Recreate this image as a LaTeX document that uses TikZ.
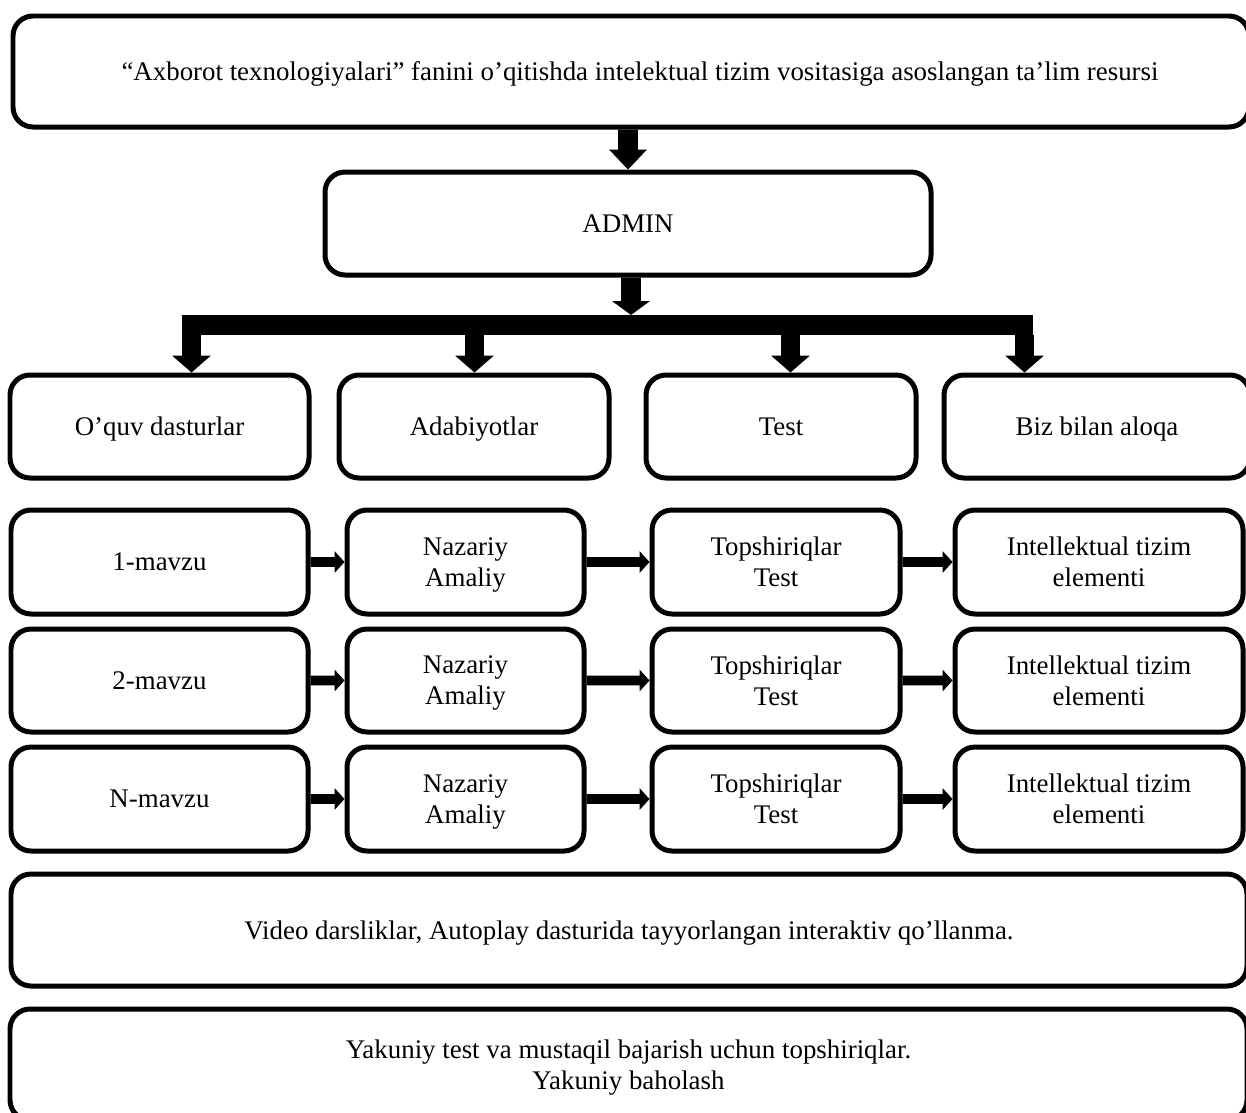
\documentclass[tikz,border=0pt]{standalone}
\usepackage{fontspec}
\setmainfont{Liberation Serif}
\usetikzlibrary{calc}

% one unit = 0.02cm; y grows downwards
\tikzset{
  box/.style={draw, line width=0.1cm, rounded corners=0.4cm, inner sep=0pt,
    align=center, text depth=0pt, font=\fontsize{15.3}{17.6}\selectfont},
}

% \boxat{name}{x1}{y1}{x2}{y2}{text}
\newcommand\boxat[6]{%
  \node[box, minimum width={(#4-#2)*0.02cm}, minimum height={(#5-#3)*0.02cm}]
    (#1) at ({(#2+#4)/2},{(#3+#5)/2}) {#6};}

% block arrow pointing down: from, tip, shaft half width, head half width, head length
\newcommand\downarr[5]{%
  \fill let \p1=(#1), \p2=(#2) in
    ({\x1-#3*0.5669pt},\y1) -- ({\x1+#3*0.5669pt},\y1)
    -- ({\x1+#3*0.5669pt},{\y2+#5*0.5669pt}) -- ({\x1+#4*0.5669pt},{\y2+#5*0.5669pt})
    -- (\x1,\y2)
    -- ({\x1-#4*0.5669pt},{\y2+#5*0.5669pt}) -- ({\x1-#3*0.5669pt},{\y2+#5*0.5669pt})
    -- cycle;}

% block arrow pointing right: from, tip, shaft half width, head half width, head length
\newcommand\rightarr[5]{%
  \fill let \p1=(#1), \p2=(#2) in
    (\x1,{\y1+#3*0.5669pt}) -- ({\x2-#5*0.5669pt},{\y1+#3*0.5669pt})
    -- ({\x2-#5*0.5669pt},{\y1+#4*0.5669pt}) -- (\x2,\y1)
    -- ({\x2-#5*0.5669pt},{\y1-#4*0.5669pt}) -- ({\x2-#5*0.5669pt},{\y1-#3*0.5669pt})
    -- (\x1,{\y1-#3*0.5669pt}) -- cycle;}

\begin{document}
\begin{tikzpicture}[x=0.02cm, y=-0.02cm]
\fill[white] (0,0) rectangle (1246,1112);
\useasboundingbox (0,0) rectangle (1246,1112);

% title and admin
\boxat{title}{13}{16}{1249}{127}{\hspace*{0.36cm}“Axborot texnologiyalari” fanini o’qitishda intelektual tizim vositasiga asoslangan ta’lim resursi}
\boxat{admin}{325}{172}{931}{275}{ADMIN}

% main sections
\boxat{secA}{10}{375}{309}{478}{O’quv dasturlar}
\boxat{secB}{339}{375}{609}{478}{Adabiyotlar}
\boxat{secC}{646}{375}{916}{478}{Test}
\boxat{secD}{944}{375}{1250}{478}{Biz bilan aloqa}

% topics
\boxat{t1a}{11}{510}{308}{614}{1-mavzu}
\boxat{t1b}{347}{510}{584}{614}{Nazariy\\Amaliy}
\boxat{t1c}{652}{510}{900}{614}{Topshiriqlar\\Test}
\boxat{t1d}{955}{510}{1243}{614}{Intellektual tizim\\elementi}

\boxat{t2a}{11}{629}{308}{732}{2-mavzu}
\boxat{t2b}{347}{629}{584}{732}{Nazariy\\Amaliy}
\boxat{t2c}{652}{629}{900}{732}{Topshiriqlar\\Test}
\boxat{t2d}{955}{629}{1243}{732}{Intellektual tizim\\elementi}

\boxat{t3a}{11}{747}{308}{851}{N-mavzu}
\boxat{t3b}{347}{747}{584}{851}{Nazariy\\Amaliy}
\boxat{t3c}{652}{747}{900}{851}{Topshiriqlar\\Test}
\boxat{t3d}{955}{747}{1243}{851}{Intellektual tizim\\elementi}

% bottom panels
\boxat{video}{11}{874}{1247}{986}{Video darsliklar, Autoplay dasturida tayyorlangan interaktiv qo’llanma.}
\boxat{final}{10}{1009}{1247}{1120}{Yakuniy test va mustaqil bajarish uchun topshiriqlar.\\Yakuniy baholash}

% title -> admin
\downarr{title.south -| admin.north}{admin.north}{10}{19}{20}

% admin -> distribution bar
\coordinate (busTop) at (631,315);
\downarr{busTop |- admin.south}{busTop}{10}{19}{14}
\coordinate (busL) at (182,315);
\coordinate (busR) at (1033,335);
\fill (busL) rectangle (busR);

% bar -> sections
\coordinate (dA) at (191.5,335);
\coordinate (dB) at (474.5,335);
\coordinate (dC) at (790.5,335);
\coordinate (dD) at (1024.5,335);
\downarr{dA}{dA |- secA.north}{9.5}{19.5}{17}
\downarr{dB}{dB |- secB.north}{9.5}{19.5}{17}
\downarr{dC}{dC |- secC.north}{9.5}{19.5}{17}
\downarr{dD}{dD |- secD.north}{9.5}{19.5}{17}

% topic rows
\foreach \r in {1,2,3}{
  \rightarr{t\r a.east}{t\r b.west}{5}{11}{10}
  \rightarr{t\r b.east}{t\r c.west}{5}{11}{10}
  \rightarr{t\r c.east}{t\r d.west}{5}{11}{10}
}
\end{tikzpicture}
\end{document}
